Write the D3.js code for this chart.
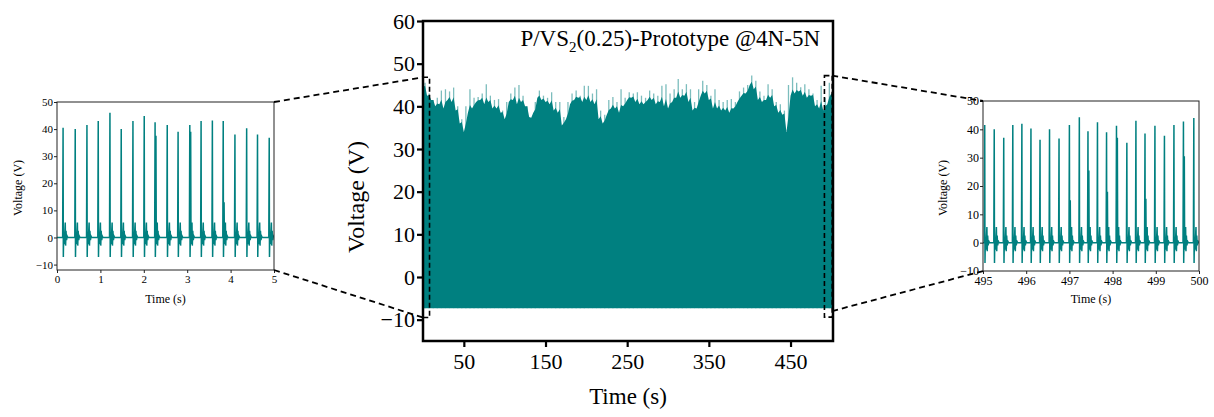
<!DOCTYPE html>
<html>
<head>
<meta charset="utf-8">
<script src="https://cdn.jsdelivr.net/npm/d3@7"></script>
<style>
  body { margin: 0; background: #fff; }
  svg { display: block; }
  text { font-family: "Liberation Serif", "Times New Roman", serif; fill: #000; }
</style>
</head>
<body>
<svg id="chart" width="1214" height="417"></svg>
<script>
// ---- data ----
const mainTicksX = [50, 150, 250, 350, 450];
const mainTicksY = [-10, 0, 10, 20, 30, 40, 50, 60];
const mainFloor = -7.3;            // lowest voltage of the dense trace
const mainBodyStep = 5;            // s between dense-body samples (t = 0, 5, ... 500)
const mainBody = [
  44.5, 42.5, 41.5, 40, 40.5, 39.5, 41.5, 41, 39, 36, 34, 38.5, 39.5, 41, 41.5, 40.5, 41, 39.5, 39.5, 38.5,
  37, 41, 41.5, 40.5, 41, 40, 37.5, 38.5, 42, 41.5, 41, 40.5, 39, 38.5, 35.5, 37, 40.5, 41.5, 42, 41,
  41.5, 41, 40.5, 37, 36, 38, 39.5, 39.5, 38.5, 40, 41.5, 42, 41, 40.5, 40.5, 41.5, 41.5, 40.5, 41, 40,
  39.5, 41, 42, 42, 42.5, 41, 39, 39.5, 42.5, 43, 41.5, 39.5, 39.5, 39, 39, 38.5, 39.5, 41, 42.5, 43,
  45, 44, 41.5, 41, 41.5, 42, 40, 38.5, 38, 34, 42.5, 43, 43.5, 42.5, 42, 42.5, 40, 39.5, 39, 40.5,
  43
];
// spike tips sampled between body samples (t = 2.5, 7.5, ... 497.5)
const mainSpikes = [
  45.5, 43, 41.5, 42, 43.7, 44, 43.5, 44.4, 40, 37, 40, 44, 42, 42.2, 43, 45.2, 42.5, 41.5, 41.7, 39,
  41, 43, 44.4, 45, 42.5, 40, 37, 41, 43.7, 42.5, 42, 43.3, 41, 41, 37.5, 41, 43, 43.7, 42.5, 44.8,
  44.8, 43, 44, 39, 38, 41.5, 42.2, 41, 44, 42, 43.3, 43, 43.3, 42.5, 42, 43.7, 43, 42.5, 44.8, 45.2,
  43, 44, 46.4, 44, 45.2, 44, 41, 44, 46, 45, 42.5, 44, 41.5, 41, 41.5, 41.7, 41, 43.5, 44.4, 45,
  47.2, 46, 43.5, 42.5, 45.2, 44, 41, 40.5, 39, 45, 46.8, 45.5, 44.5, 45.2, 44, 43, 41.5, 44.8, 42, 45.5
];
const zoomBoxes = [
  { t0: 0, t1: 8, v0: -9.5, v1: 46.8 },
  { t0: 491.5, t1: 501, v0: -9.4, v1: 47.2 }
];

// first five seconds
const leftTimes = [0.14, 0.42, 0.69, 0.95, 1.22, 1.48, 1.75, 2.01, 2.26, 2.54, 2.79, 3.06, 3.32, 3.58, 3.83, 4.10, 4.37, 4.62, 4.89];
const leftPeaks = [40.5, 40, 41.5, 43, 46, 40, 43, 44.8, 42.5, 41.5, 39, 41.5, 43, 43.2, 43, 38, 40.3, 38, 36.8];
const leftEchoes = [0, 0, 0, 0, 0, 0, 0, 0, 37.5, 0, 0, 39, 0, 0, 13, 0, 0, 0, 0];
// last five seconds
const rightTimes = [495.04, 495.26, 495.48, 495.69, 495.90, 496.11, 496.32, 496.54, 496.76, 497.00, 497.23, 497.43,
  497.65, 497.86, 498.09, 498.33, 498.54, 498.75, 498.98, 499.20, 499.42, 499.64, 499.88];
const rightPeaks = [41.5, 40, 37, 41.5, 42, 40.3, 36.3, 40, 36.8, 41.5, 44.3, 39.3, 42.5, 39, 41.3, 35.3, 43, 38.5, 41.3, 37.7, 41.5, 42.8, 44];
const rightEchoes = [0, 0, 0, 0, 0, 0, 0, 0, 0, 15, 0, 25.5, 0, 18, 37, 0, 0, 15.5, 0, 0, 0, 30.5, 0];
// shape of one pulse: [seconds after the peak, volts]; 'P' = peak, 'E' = echo peak
const pulseShape = [[-0.01, 0], [0, 'P'], [0.006, -7.2], [0.014, 1.5], [0.02, 'E'], [0.028, -2.5],
  [0.04, 2], [0.05, 5.5], [0.058, -3], [0.068, 2.5], [0.08, -1], [0.095, 0.5], [0.11, 0]];

const teal = '#008080';
const tealLight = '#7cbdbd';

const svg = d3.select('#chart');

// ---------- main chart ----------
const main = { left: 423, right: 833, top: 21, bottom: 341 };
const x = d3.scaleLinear().domain([0, 502]).range([main.left, main.right]);
const y = d3.scaleLinear().domain([-15, 60]).range([main.bottom, main.top]);

const mg = svg.append('g');
mg.append('clipPath').attr('id', 'clipMain')
  .append('rect')
  .attr('x', main.left).attr('y', main.top)
  .attr('width', main.right - main.left).attr('height', main.bottom - main.top);

const plot = mg.append('g').attr('clip-path', 'url(#clipMain)');

// light spike tips
plot.selectAll('line.spike')
  .data(mainSpikes)
  .enter()
  .append('line')
  .attr('class', 'spike')
  .attr('x1', (d, i) => x(2.5 + i * mainBodyStep))
  .attr('x2', (d, i) => x(2.5 + i * mainBodyStep))
  .attr('y1', y(mainFloor))
  .attr('y2', d => y(d))
  .attr('stroke', tealLight)
  .attr('stroke-width', 1.3);

// dense body: zig-zag between body level and the dark lower part of each spike
const body = [];
mainBody.forEach((v, i) => {
  body.push([i * mainBodyStep, v]);
  if (i < mainSpikes.length) {
    body.push([i * mainBodyStep + 2.5, (2 * v + mainSpikes[i]) / 3]);
  }
});
body.push([502, mainBody[mainBody.length - 1]]);
const area = d3.area()
  .x(d => x(d[0]))
  .y0(y(mainFloor))
  .y1(d => y(d[1]));
plot.append('path')
  .datum(body)
  .attr('d', area)
  .attr('fill', teal);

// frame
mg.append('rect')
  .attr('x', main.left).attr('y', main.top)
  .attr('width', main.right - main.left).attr('height', main.bottom - main.top)
  .attr('fill', 'none').attr('stroke', '#000').attr('stroke-width', 2.5);

// axes
const xAxis = d3.axisBottom(x).tickValues(mainTicksX).tickSize(6).tickPadding(6);
const yAxis = d3.axisLeft(y).tickValues(mainTicksY).tickSize(6).tickPadding(2);
const xg = mg.append('g').attr('transform', `translate(0,${main.bottom})`).call(xAxis);
const yg = mg.append('g').attr('transform', `translate(${main.left},0)`).call(yAxis);
[xg, yg].forEach(g => {
  g.select('.domain').remove();
  g.selectAll('line').attr('stroke', '#000').attr('stroke-width', 2.2);
  g.selectAll('text').style('font-size', '22px').attr('fill', '#000');
});

mg.append('text')
  .attr('x', 820).attr('y', 46)
  .attr('text-anchor', 'end')
  .style('font-size', '23px')
  .html('P/VS<tspan dy="6" style="font-size:15px">2</tspan><tspan dy="-6">(0.25)-Prototype @4N-5N</tspan>');

mg.append('text')
  .attr('x', (main.left + main.right) / 2).attr('y', 404)
  .attr('text-anchor', 'middle')
  .style('font-size', '23px')
  .text('Time (s)');

mg.append('text')
  .attr('transform', `translate(364,${(main.top + main.bottom) / 2 + 16}) rotate(-90)`)
  .attr('text-anchor', 'middle')
  .style('font-size', '24px')
  .text('Voltage (V)');

// zoom boxes
mg.selectAll('rect.zoombox')
  .data(zoomBoxes)
  .enter()
  .append('rect')
  .attr('class', 'zoombox')
  .attr('x', d => x(d.t0)).attr('y', d => y(d.v1))
  .attr('width', d => x(d.t1) - x(d.t0)).attr('height', d => y(d.v0) - y(d.v1))
  .attr('fill', 'none').attr('stroke', '#000')
  .attr('stroke-width', 1.6).attr('stroke-dasharray', '5,3');

// ---------- insets ----------
function pulseTrace(times, peaks, echoes, t0, t1) {
  const pts = [[t0, 0]];
  times.forEach((t, i) => {
    pulseShape.forEach(([dt, v]) => {
      const val = v === 'P' ? peaks[i] : v === 'E' ? (echoes[i] || 0.5) : v;
      pts.push([t + dt, val]);
    });
  });
  pts.push([t1, 0]);
  return pts;
}

function inset(opts) {
  const g = svg.append('g');
  const ix = d3.scaleLinear().domain(opts.xDomain).range([opts.left, opts.right]);
  const iy = d3.scaleLinear().domain(opts.yDomain).range([opts.bottom, opts.top]);
  g.append('clipPath').attr('id', opts.id)
    .append('rect')
    .attr('x', opts.left).attr('y', opts.top)
    .attr('width', opts.right - opts.left).attr('height', opts.bottom - opts.top);

  const line = d3.line().x(d => ix(d[0])).y(d => iy(d[1]));
  g.append('path')
    .datum(pulseTrace(opts.times, opts.peaks, opts.echoes, opts.xDomain[0], opts.xDomain[1]))
    .attr('clip-path', `url(#${opts.id})`)
    .attr('d', line)
    .attr('fill', 'none')
    .attr('stroke', teal)
    .attr('stroke-width', 1.5);

  g.append('rect')
    .attr('x', opts.left).attr('y', opts.top)
    .attr('width', opts.right - opts.left).attr('height', opts.bottom - opts.top)
    .attr('fill', 'none').attr('stroke', '#222').attr('stroke-width', 1);

  const ax = g.append('g').attr('transform', `translate(0,${opts.bottom})`)
    .call(d3.axisBottom(ix).tickValues(opts.xTicks).tickFormat(d3.format('d')).tickSize(3).tickPadding(2));
  const ay = g.append('g').attr('transform', `translate(${opts.left},0)`)
    .call(d3.axisLeft(iy).tickValues(opts.yTicks).tickFormat(d3.format('d')).tickSize(3).tickPadding(1));
  [ax, ay].forEach(a => {
    a.select('.domain').remove();
    a.selectAll('line').attr('stroke', '#222');
    a.selectAll('text').style('font-size', opts.fontSize + 'px').attr('fill', '#222');
  });

  g.append('text')
    .attr('x', (opts.left + opts.right) / 2).attr('y', 303)
    .attr('text-anchor', 'middle')
    .style('font-size', '12px').attr('fill', '#222')
    .text('Time (s)');
  g.append('text')
    .attr('transform', `translate(${opts.labelX},${(opts.top + opts.bottom) / 2 + 2}) rotate(-90)`)
    .attr('text-anchor', 'middle')
    .style('font-size', '12px').attr('fill', '#222')
    .text('Voltage (V)');
  return { ix, iy };
}

inset({
  id: 'clipL', left: 57, right: 274, top: 102, bottom: 270,
  xDomain: [0, 5], yDomain: [-12, 50],
  xTicks: [0, 1, 2, 3, 4, 5], yTicks: [-10, 0, 10, 20, 30, 40, 50],
  times: leftTimes, peaks: leftPeaks, echoes: leftEchoes,
  labelX: 22, fontSize: 11
});
inset({
  id: 'clipR', left: 983, right: 1199, top: 101, bottom: 271,
  xDomain: [495, 500], yDomain: [-10, 50],
  xTicks: [495, 496, 497, 498, 499, 500], yTicks: [-10, 0, 10, 20, 30, 40, 50],
  times: rightTimes, peaks: rightPeaks, echoes: rightEchoes,
  labelX: 947, fontSize: 12
});

// dashed connectors between zoom boxes and insets
const b0 = zoomBoxes[0], b1 = zoomBoxes[1];
const connectors = [
  [[274, 102], [x(b0.t0), y(b0.v1)]],
  [[274, 270], [x(b0.t0), y(b0.v0)]],
  [[x(b1.t1), y(b1.v1)], [983, 101]],
  [[x(b1.t1), y(b1.v0) - 6], [983, 271]]
];
svg.selectAll('line.conn')
  .data(connectors)
  .enter()
  .append('line')
  .attr('class', 'conn')
  .attr('x1', d => d[0][0]).attr('y1', d => d[0][1])
  .attr('x2', d => d[1][0]).attr('y2', d => d[1][1])
  .attr('stroke', '#000').attr('stroke-width', 1.8)
  .attr('stroke-dasharray', '6,4');
</script>
</body>
</html>
